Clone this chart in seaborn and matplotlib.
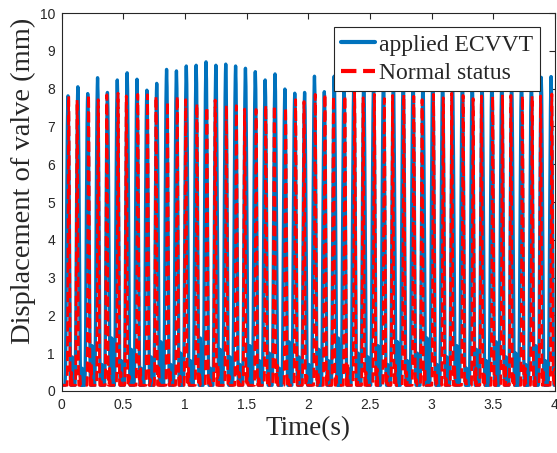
import numpy as np
import pandas as pd
import matplotlib
matplotlib.use("Agg")
import matplotlib.pyplot as plt
import seaborn as sns

# ---- valve-lift data (mm) -------------------------------------------------
# one lift event every 80 ms, first one at 50 ms
cycle_period = 0.08
first_event = 0.05

# peak lift of every event, applied ECVVT
ecvvt_peaks = [7.81, 8.05, 7.87, 8.29, 7.90, 8.23, 8.42, 8.25, 7.96, 8.14,
               8.51, 8.47, 8.60, 8.62, 8.71, 8.62, 8.65, 8.60, 8.54, 8.45,
               8.23, 8.39, 7.99, 7.88, 7.90, 8.33, 7.92, 8.33, 8.15, 8.25,
               8.30, 8.20, 8.35, 8.28, 8.40, 8.32, 8.25, 8.38, 8.30, 8.22,
               8.35, 8.28, 8.20, 8.32, 8.26, 8.18, 8.30, 8.24, 8.30, 8.32]

# peak lift of every event, normal status
normal_peaks = [7.80, 7.70, 7.88, 7.75, 7.88, 7.88, 7.85, 7.85, 7.88, 7.80,
                7.70, 7.80, 7.75, 7.60, 7.55, 7.70, 7.60, 7.55, 7.50, 7.45,
                7.60, 7.55, 7.50, 7.75, 7.70, 7.85, 7.90, 7.80, 7.85, 7.90,
                7.80, 7.85, 7.78, 7.82, 7.88, 7.80, 7.75, 7.85, 7.80, 7.88,
                7.82, 7.78, 7.85, 7.80, 7.88, 7.82, 7.85, 7.80, 7.85, 7.86]

# small re-opening bounce after each closing
ecvvt_bounce = [0.9, 0.6, 1.2, 0.7, 1.4, 0.8, 1.1, 0.6, 0.9, 1.3,
                0.7, 1.0, 0.8, 1.4, 0.6, 1.1, 0.9, 0.7, 1.2, 0.8,
                1.0, 0.6, 1.3, 0.9, 0.7, 1.1, 0.8, 1.4, 0.6, 1.0,
                0.9, 1.2, 0.7, 1.3, 0.8, 1.0, 1.4, 0.7, 0.9, 1.2,
                0.6, 1.1, 0.8, 1.3, 0.9, 1.0, 0.7, 1.2, 0.8, 1.4]
normal_bounce = [0.5, 0.4, 0.7, 0.3, 0.6, 0.5, 0.4, 0.6, 0.3, 0.7,
                 0.5, 0.4, 0.6, 0.5, 0.3, 0.7, 0.4, 0.5, 0.6, 0.4,
                 0.5, 0.7, 0.3, 0.6, 0.4, 0.5, 0.6, 0.4, 0.7, 0.3,
                 0.5, 0.6, 0.4, 0.7, 0.5, 0.3, 0.6, 0.5, 0.4, 0.7,
                 0.3, 0.6, 0.5, 0.4, 0.7, 0.5, 0.6, 0.4, 0.5, 0.6]

# timing offset (s) of each normal-status event against the ECVVT one
normal_phase = [0.006, -0.006, 0.007, 0.005, -0.005, 0.006, -0.007, 0.006,
                0.005, -0.006, 0.007, 0.006, -0.005, 0.006, 0.007, -0.006,
                0.005, 0.006, -0.007, 0.006, 0.005, -0.006, 0.006, 0.007,
                -0.005, 0.006, 0.005, -0.006, 0.007, 0.006, -0.005, 0.006,
                0.007, -0.006, 0.005, 0.006, -0.007, 0.006, 0.005, -0.006,
                0.006, 0.007, -0.005, 0.006, 0.005, -0.006, 0.007, 0.006,
                -0.005, 0.006]

# normalised cam lift profile (fraction of the lift above the seat)
lift_profile = [0.0, 0.04, 0.15, 0.35, 0.60, 0.82, 0.95, 1.0,
                0.95, 0.82, 0.60, 0.35, 0.15, 0.04, 0.0]
bounce_profile = [0.0, 0.6, 1.0, 0.6, 0.0]

seat_lift = 0.15          # residual reading with the valve seated
x_ticks = [0, 0.5, 1, 1.5, 2, 2.5, 3, 3.5, 4]
y_ticks = list(range(0, 11))


def lift_trace(peaks, bounces, shifts, open_dur):
    t = np.arange(0.0, 4.0001, 0.0004)
    y = np.full_like(t, seat_lift)
    prof = np.asarray(lift_profile)
    bprof = np.asarray(bounce_profile)
    for k, (pk, bn, sh) in enumerate(zip(peaks, bounces, shifts)):
        c = first_event + k * cycle_period + sh
        xs = np.linspace(c - open_dur / 2, c + open_dur / 2, len(prof))
        ys = seat_lift + (pk - seat_lift) * prof
        y = np.maximum(y, np.interp(t, xs, ys, left=0, right=0))
        bc = c + open_dur / 2 + 0.010
        bx = np.linspace(bc - 0.005, bc + 0.005, len(bprof))
        by = seat_lift + (bn - seat_lift) * bprof
        y = np.maximum(y, np.interp(t, bx, by, left=0, right=0))
    return pd.DataFrame({"Time(s)": t, "lift": y})


ecvvt = lift_trace(ecvvt_peaks, ecvvt_bounce, [0.0] * len(ecvvt_peaks), 0.048)
normal = lift_trace(normal_peaks, normal_bounce, normal_phase, 0.026)

# ---- figure ---------------------------------------------------------------
sns.set_style("white")
plt.rcParams["font.family"] = ["Liberation Sans", "DejaVu Sans"]

fig = plt.figure(figsize=(5.57, 4.53), dpi=100)
ax = fig.add_axes([0.111, 0.137, 0.885, 0.834])

sns.lineplot(data=ecvvt, x="Time(s)", y="lift", ax=ax, color="#0072BD",
             linewidth=2.4, estimator=None, sort=False, label="applied ECVVT")
sns.lineplot(data=normal, x="Time(s)", y="lift", ax=ax, color="#FF0000",
             linewidth=2.0, linestyle="--", dashes=(3.0, 1.5),
             estimator=None, sort=False, label="Normal status")

ax.set_xlim(0, 4)
ax.set_ylim(0, 10)
ax.set_xticks(x_ticks)
ax.set_xticklabels([f"{v:g}" for v in x_ticks])
ax.set_yticks(y_ticks)
ax.set_yticklabels([str(v) for v in y_ticks])
ax.tick_params(direction="in", length=4, width=0.8, colors="#262626",
               labelsize=10, top=True, right=True, pad=5)
for s in ax.spines.values():
    s.set_color("#262626")
    s.set_linewidth(0.8)

serif = ["Liberation Serif", "DejaVu Serif"]
ax.set_xlabel("Time(s)", family=serif, fontsize=19.5, color="#262626", labelpad=3)
ax.set_ylabel("Displacement of valve (mm)", family=serif, fontsize=20.5,
              color="#262626")
ax.yaxis.set_label_coords(-0.053, 0.555)

leg = ax.legend(loc="upper right", bbox_to_anchor=(0.970, 0.963),
                borderaxespad=0, prop={"family": serif, "size": 17},
                frameon=True, fancybox=False, edgecolor="#262626",
                framealpha=1, handlelength=1.45, handletextpad=0.15,
                borderpad=0.3, labelspacing=0.3)
leg.get_frame().set_linewidth(0.8)
for h in leg.get_lines():
    h.set_linewidth(3.0)

fig.savefig("out.png", dpi=100)
